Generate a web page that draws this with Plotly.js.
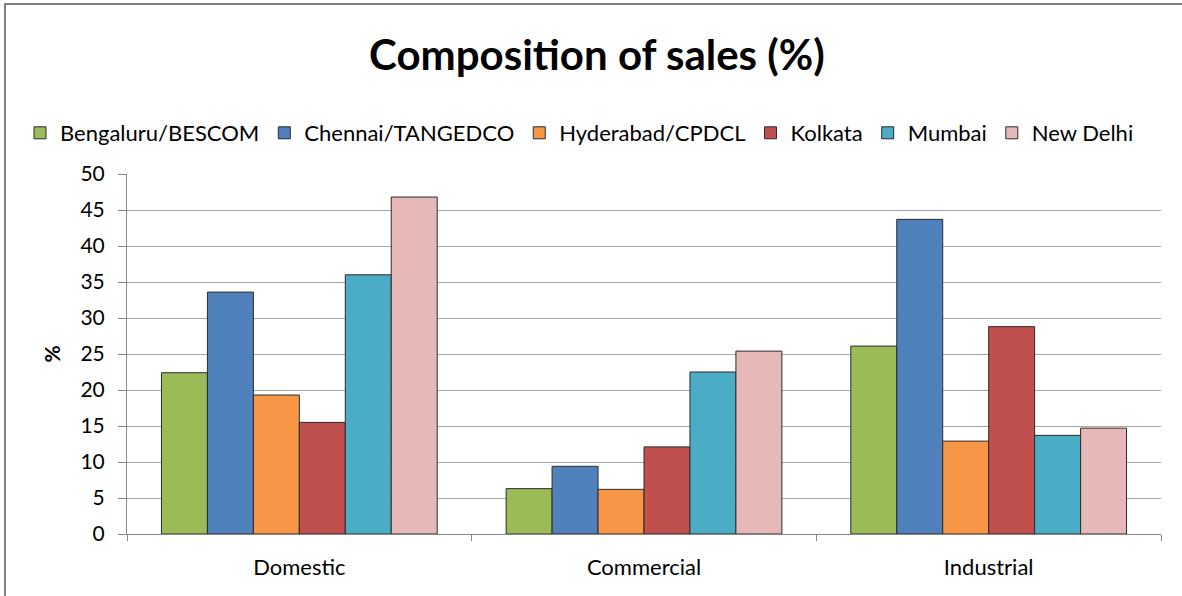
<!DOCTYPE html>
<html>
<head>
<meta charset="utf-8">
<script src="https://cdn.plot.ly/plotly-3.0.1.min.js"></script>
<style>
html,body{margin:0;padding:0;background:#fff;}
#chart{width:1182px;height:596px;}
</style>
</head>
<body>
<div id="chart"></div>
<script>
const categories = ["Domestic", "Commercial", "Industrial"];
const seriesNames = ["Bengaluru/BESCOM", "Chennai/TANGEDCO", "Hyderabad/CPDCL", "Kolkata", "Mumbai", "New Delhi"];
const bengaluru = [22.4, 6.3, 26.1];
const chennai = [33.6, 9.4, 43.7];
const hyderabad = [19.3, 6.2, 12.9];
const kolkata = [15.5, 12.1, 28.8];
const mumbai = [36.0, 22.5, 13.7];
const newDelhi = [46.8, 25.4, 14.7];
const yTicks = [0, 5, 10, 15, 20, 25, 30, 35, 40, 45, 50];

const seriesValues = [bengaluru, chennai, hyderabad, kolkata, mumbai, newDelhi];
const colors = ["#9BBB59", "#4F81BD", "#F79646", "#C0504D", "#4BACC6", "#E6B9B8"];
const FONT = "Lato, 'Open Sans', sans-serif";

const traces = seriesNames.map((name, i) => ({
  type: "bar",
  name: name,
  x: categories,
  y: seriesValues[i],
  marker: {color: colors[i], line: {color: "#2b2b2b", width: 1}},
  hoverinfo: "x+y+name"
}));

const L = 127, R = 21, T = 174, B = 62;
const PW = 1182 - L - R, PH = 596 - T - B;

const layout = {
  width: 1182, height: 596,
  margin: {l: L, r: R, t: T, b: B},
  paper_bgcolor: "#fff", plot_bgcolor: "#fff",
  font: {family: FONT, color: "#000"},
  title: {text: "<b>Composition of sales (%)</b>", font: {size: 42, family: FONT, color: "#000"},
          x: 0.505, xanchor: "center", y: 1 - 55 / 596, yanchor: "middle"},
  barmode: "group", bargap: 0.2, bargroupgap: 0,
  showlegend: true,
  legend: {orientation: "h", x: (20 - L) / PW, xanchor: "left", y: 1 + (T - 133) / PH, yanchor: "middle",
           font: {size: 22, family: FONT}, itemwidth: 30, traceorder: "normal"},
  xaxis: {type: "category", showline: true, linecolor: "#888", linewidth: 1,
          ticks: "outside", tickson: "boundaries", ticklen: 6, tickcolor: "#888",
          ticklabelstandoff: 14,
          tickfont: {size: 22, family: FONT}, showgrid: false, fixedrange: true},
  yaxis: {range: [0, 50], tickvals: yTicks, ticktext: yTicks.map(String),
          showline: true, linecolor: "#888", linewidth: 1,
          ticks: "outside", ticklen: 8, tickcolor: "#888",
          ticklabelstandoff: 9,
          showgrid: true, gridcolor: "#a6a6a6", gridwidth: 1, zeroline: false,
          tickfont: {size: 21, family: FONT},
          title: {text: "<b>%</b>", font: {size: 21, family: FONT}, standoff: 14}},
  shapes: [{type: "rect", xref: "paper", yref: "paper",
            x0: (5 - L) / PW, x1: 1.2, y0: -0.4, y1: 1 + (T - 4) / PH,
            line: {color: "#7f7f7f", width: 2}, fillcolor: "rgba(0,0,0,0)", layer: "below"}]
};

Plotly.newPlot("chart", traces, layout, {displayModeBar: false, staticPlot: true});
</script>
</body>
</html>
